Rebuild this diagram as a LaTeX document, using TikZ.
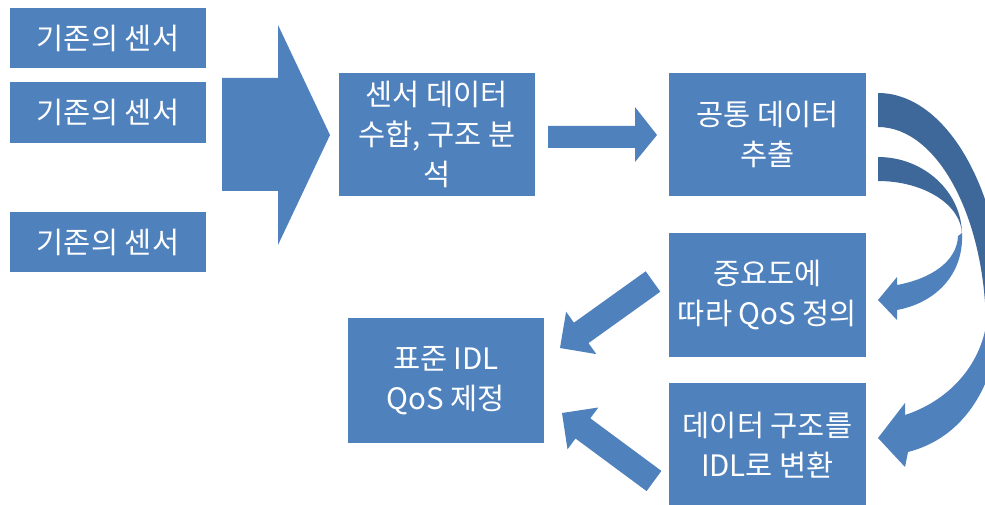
\documentclass[tikz,border=0pt]{standalone}
\usepackage{fontspec}
\setmainfont{Noto Sans CJK KR}
\definecolor{boxblue}{HTML}{4F81BD}
\definecolor{darkblue}{HTML}{3E6899}
\begin{document}
\begin{tikzpicture}[x=1pt,y=-1pt,
  box/.style={fill=boxblue, draw=none, text=white, inner sep=0pt, align=center,
    font=\fontsize{29.5pt}{40pt}\selectfont},
  blockarrow/.style={fill=boxblue, draw=none},
  backarrow/.style={fill=darkblue, draw=none}]
\useasboundingbox (0,0) rectangle (985,505);
\clip (0,0) rectangle (985,505);
% sensor boxes
\node[box, minimum width=196pt, minimum height=60pt] (s1) at (108,38) {기존의 센서};
\node[box, minimum width=196pt, minimum height=61pt] (s2) at (108,112.5) {기존의 센서};
\node[box, minimum width=196pt, minimum height=60pt] (s3) at (108,242) {기존의 센서};
% process boxes
\node[box, minimum width=196pt, minimum height=123pt] (merge) at (437,134.5) {센서 데이터\\수합, 구조 분\\석};
\node[box, minimum width=197pt, minimum height=123pt] (common) at (767.5,134.5) {공통 데이터\\추출};
\node[box, minimum width=197pt, minimum height=124pt] (qos) at (767.5,295) {중요도에\\따라 QoS 정의};
\node[box, minimum width=197pt, minimum height=125pt] (idl) at (767.5,445.5) {데이터 구조를\\IDL로 변환};
\node[box, minimum width=196pt, minimum height=125pt] (std) at (446,380.5) {표준 IDL\\QoS 제정};
% big block arrow: sensors -> merge
\fill[blockarrow] (222,78) -- (278,78) -- (278,25) -- (330,135) -- (278,245) -- (278,191) -- (222,191) -- cycle;
% arrow merge -> common
\fill[blockarrow] (548,126) -- (635,126) -- (635,107) -- (657,135) -- (635,162) -- (635,148) -- (548,148) -- cycle;
% diagonal arrow qos -> std
\fill[blockarrow] (645.7,271.3) -- (573.9,322.7) -- (566.1,311.7) -- (560,348) -- (596.3,354.1) -- (588.5,343.1) -- (660.3,291.7) -- cycle;
% diagonal arrow idl -> std
\fill[blockarrow] (661.4,470.9) -- (590.3,418.3) -- (598.3,407.5) -- (562,413) -- (567.5,449.3) -- (575.5,438.5) -- (646.6,491.1) -- cycle;
% curved arrow common -> qos (inner)
\fill[backarrow] (878,157) .. controls (924,157) and (962,192) .. (962,235)
  .. controls (962,205) and (924,181) .. (878,181) -- cycle;
\fill[blockarrow] (962,233) .. controls (964,275) and (935,303) .. (897,310)
  -- (897,320) -- (878,300) -- (897,277) -- (897,285)
  .. controls (930,279) and (957,262) .. (958,236) -- cycle;
% curved arrow common -> idl (outer)
\fill[backarrow] (878,93) .. controls (947.6,93) and (1004,194) .. (1004,318)
  -- (986,330) .. controls (986,218) and (937.6,127) .. (878,127) -- cycle;
\fill[blockarrow] (986,326) .. controls (978,370) and (945,402) .. (905,415)
  -- (905,403) -- (878,438) -- (905,467) -- (908,452)
  .. controls (955,440) and (990,400) .. (1000,330) -- cycle;
\end{tikzpicture}
\end{document}
